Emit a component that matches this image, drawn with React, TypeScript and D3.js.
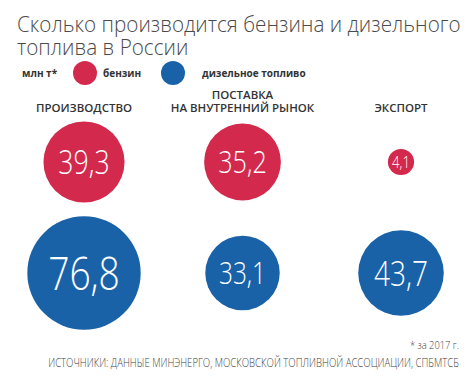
import React from "react";
import * as d3 from "d3";

const titleLines = ["Сколько производится бензина и дизельного", "топлива в России"];
const unitLabel = "млн т*";
const seriesNames = ["бензин", "дизельное топливо"];
const seriesColors = ["#d3294d", "#1a62a8"];
const categories = ["ПРОИЗВОДСТВО", "ПОСТАВКА\nНА ВНУТРЕННИЙ РЫНОК", "ЭКСПОРТ"];
const gasoline = [39.3, 35.2, 4.1];
const diesel = [76.8, 33.1, 43.7];
const footnote = "* за 2017 г.";
const source = "ИСТОЧНИКИ: ДАННЫЕ МИНЭНЕРГО, МОСКОВСКОЙ ТОПЛИВНОЙ АССОЦИАЦИИ, СПБМТСБ";

const W = 475;
const H = 380;
const FONT = "'Open Sans', 'Noto Sans', sans-serif";

const locale = d3.formatLocale({ decimal: ",", thousands: " ", grouping: [3], currency: ["", ""] });
const fmt = locale.format(".1f");

export default function App() {
  const x = d3.scalePoint<string>().domain(categories).range([84, 401]);
  const y = d3.scalePoint<string>().domain(seriesNames).range([162, 273]);
  const maxV = d3.max([...gasoline, ...diesel]) as number;
  const r = d3.scaleSqrt().domain([0, maxV]).range([0, 56.7]);
  const series = [gasoline, diesel];

  return (
    <svg width={W} height={H} style={{ position: "absolute", left: 0, top: 0, background: "#fff" }} fontFamily={FONT}>
      <rect width={W} height={H} fill="#fff" />
      {titleLines.map((t, i) => (
        <text key={i} transform={`translate(17,${32 + i * 23}) scale(0.92,1)`} fontSize={22.5} fontWeight={300} fill="#4a4a4a">
          {t}
        </text>
      ))}
      <g>
        <text x={22} y={77} fontSize={10} fontWeight={700} fill="#333">{unitLabel}</text>
        {seriesNames.map((s, i) => {
          const cx = i === 0 ? 85 : 173;
          return (
            <g key={s}>
              <circle cx={cx} cy={73} r={12} fill={seriesColors[i]} />
              <text x={cx + (i === 0 ? 18 : 29)} y={77} fontSize={10} fontWeight={700} fill="#333">{s}</text>
            </g>
          );
        })}
      </g>
      {categories.map((c) => {
        const lines = c.split("\n");
        return (
          <text key={c} x={x(c)} textAnchor="middle" fontSize={11.5} fontWeight={600} fill="#333">
            {lines.map((l, i) => (
              <tspan key={i} x={x(c)} y={112 - (lines.length - 1 - i) * 13}>{l}</tspan>
            ))}
          </text>
        );
      })}
      {series.map((vals, si) =>
        vals.map((v, ci) => {
          const cx = x(categories[ci]) as number;
          const cy = y(seriesNames[si]) as number;
          const rr = r(v);
          const fs = Math.max(16.5, rr * 0.82);
          return (
            <g key={si + "-" + ci}>
              <circle cx={cx} cy={cy} r={rr} fill={seriesColors[si]} />
              <text transform={`translate(${cx},${cy + fs * 0.36}) scale(0.8,1)`} textAnchor="middle" fontSize={fs} fontWeight={300} fill="#fff">
                {fmt(v)}
              </text>
            </g>
          );
        })
      )}
      <text transform="translate(459,349) scale(0.85,1)" textAnchor="end" fontSize={11} fontWeight={300} fill="#444">{footnote}</text>
      <text transform="translate(459,367) scale(0.8,1)" textAnchor="end" fontSize={12} fontWeight={300} fill="#444">{source}</text>
    </svg>
  );
}
